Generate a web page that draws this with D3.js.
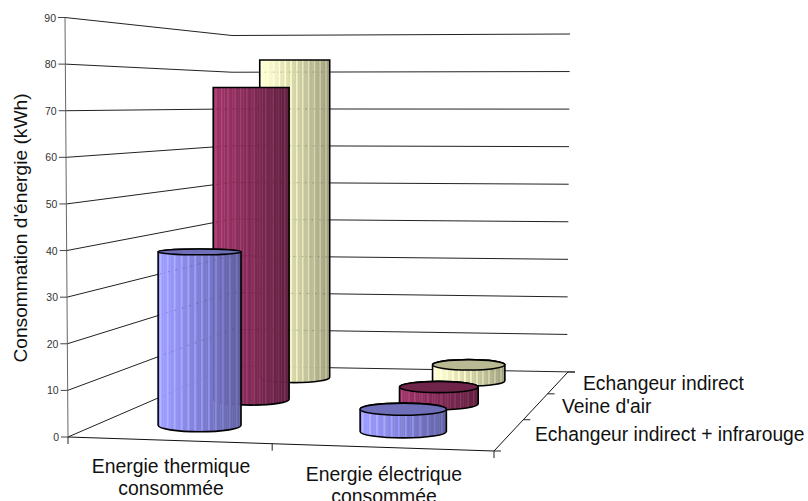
<!DOCTYPE html>
<html>
<head>
<meta charset="utf-8">
<script src="https://cdn.jsdelivr.net/npm/d3@7"></script>
<style>
  html, body { margin: 0; padding: 0; background: #fff; }
  svg { display: block; }
  text { font-family: "Liberation Sans", Arial, sans-serif; fill: #111; }
</style>
</head>
<body>
<div id="chart"></div>
<script>
var categories = [["Energie thermique", "consommée"], ["Energie électrique", "consommée"]];
var series = ["Echangeur indirect + infrarouge", "Veine d'air", "Echangeur indirect"];
var seriesColors = ["#9999ff", "#993366", "#ffffcc"];
var thermalValues = [38.2, 75, 82.8];
var electricValues = [4.7, 3.9, 4];
var valueTicks = [0, 10, 20, 30, 40, 50, 60, 70, 80, 90];
var axisTitle = "Consommation d'énergie (kWh)";

var width = 808, height = 501;
var svg = d3.select("#chart").append("svg")
  .attr("width", width)
  .attr("height", height);
var defs = svg.append("defs");

// floor corners on screen, used for a projective map of the unit square
var FL = [68, 437], FR = [494, 451], BR = [568, 372], BL = [232, 366];

var dx1 = FR[0] - BR[0], dx2 = BL[0] - BR[0], sx = FL[0] - FR[0] + BR[0] - BL[0];
var dy1 = FR[1] - BR[1], dy2 = BL[1] - BR[1], sy = FL[1] - FR[1] + BR[1] - BL[1];
var den = dx1 * dy2 - dx2 * dy1;
var g = (sx * dy2 - dx2 * sy) / den;
var h = (dx1 * sy - sx * dy1) / den;

function project(u, v) {
  var w = 1 + g * u + h * v;
  return {
    x: ((FR[0] - FL[0] + g * FR[0]) * u + (BL[0] - FL[0] + h * BL[0]) * v + FL[0]) / w,
    y: ((FR[1] - FL[1] + g * FR[1]) * u + (BL[1] - FL[1] + h * BL[1]) * v + FL[1]) / w,
    w: w
  };
}

var uScale = d3.scaleBand().domain([0, 1]).range([0, 1]);
var vScale = d3.scaleBand().domain(d3.range(series.length)).range([0, 1]);
var heightScale = d3.scaleLinear().domain([0, 90]).range([0, 420]);

// the three wall edges
var yFront = d3.scaleLinear().domain([0, 90]).range([437, 17.5]);
var yBack = d3.scaleLinear().domain([0, 90]).range([366, 35.5]);
var yRight = d3.scaleLinear().domain([0, 90]).range([372, 34]);
var xFront = d3.scaleLinear().domain([0, 90]).range([68, 65]);
var xRight = d3.scaleLinear().domain([0, 90]).range([567, 570]);

var line = d3.line();

function gridPoints(d) {
  return [[xFront(d), yFront(d)], [232, yBack(d)], [xRight(d), yRight(d)]];
}

// walls and floor
var grid = svg.append("g").attr("fill", "none").attr("stroke", "#222").attr("stroke-width", 1);

grid.selectAll("path.grid")
  .data(valueTicks.slice(1))
  .join("path")
  .attr("class", "grid")
  .attr("d", function(d) { return line(gridPoints(d)); });

grid.append("path").attr("d", line([FL, BL])).attr("stroke", "#222");
grid.append("path").attr("d", line([BL, [BR[0] + 7, BR[1]]])).attr("stroke", "#222");
grid.append("path").attr("d", line([FL, FR])).attr("stroke", "#111");
grid.append("path").attr("d", line([FR, BR])).attr("stroke", "#111");
grid.append("path")
  .attr("d", line([[xFront(90), yFront(90)], FL]))
  .attr("stroke", "#666");

// value axis ticks and labels
var tickGroup = svg.append("g");
tickGroup.selectAll("line")
  .data(valueTicks)
  .join("line")
  .attr("x1", function(d) { return xFront(d) - 7; })
  .attr("x2", function(d) { return xFront(d); })
  .attr("y1", function(d) { return yFront(d); })
  .attr("y2", function(d) { return yFront(d); })
  .attr("stroke", "#444");
tickGroup.selectAll("text")
  .data(valueTicks)
  .join("text")
  .attr("x", function(d) { return xFront(d) - 9; })
  .attr("y", function(d) { return yFront(d) + 4; })
  .attr("text-anchor", "end")
  .attr("font-size", 10.5)
  .style("fill", "#333")
  .text(function(d) { return d; });

// category and depth ticks
var floorTicks = svg.append("g").attr("stroke", "#222");
[0, 0.5, 1].forEach(function(u) {
  var p = project(u, 0);
  floorTicks.append("line").attr("x1", p.x).attr("x2", p.x).attr("y1", p.y).attr("y2", p.y + 7);
});
[0, 1, 2, 3].forEach(function(i) {
  var p = project(1, i / 3);
  floorTicks.append("line").attr("x1", p.x).attr("x2", p.x + 7).attr("y1", p.y).attr("y2", p.y);
});

// cylinders, back row first
var bars = [];
d3.range(series.length).reverse().forEach(function(s) {
  bars.push({ cat: 0, s: s, value: thermalValues[s] });
  bars.push({ cat: 1, s: s, value: electricValues[s] });
});

var horizon = 105;
function ellipseRy(y) { return Math.max(0, (y - horizon) * 0.02); }

var bandSteps = d3.range(0, 1, 1 / 48);

bars.forEach(function(d, i) {
  var p = project(uScale(d.cat) + uScale.bandwidth() / 2, vScale(d.s) + vScale.bandwidth() / 2);
  var rx = 42.6 / p.w;
  var cx = p.x + 2;
  var by = p.y;
  var ty = by - heightScale(d.value) / p.w;
  var ryB = ellipseRy(by), ryT = ellipseRy(ty);
  var base = seriesColors[d.s];
  var shade = d3.interpolateRgb(base, d3.rgb(base).darker(1.35));
  var body = "M" + (cx - rx) + "," + ty +
    "L" + (cx - rx) + "," + by +
    "A" + rx + "," + ryB + " 0 0 0 " + (cx + rx) + "," + by +
    "L" + (cx + rx) + "," + ty +
    "A" + rx + "," + ryT + " 0 0 0 " + (cx - rx) + "," + ty + "Z";

  var clipId = "clip" + i;
  defs.append("clipPath").attr("id", clipId).append("path").attr("d", body);

  var g0 = svg.append("g");
  var inner = g0.append("g").attr("clip-path", "url(#" + clipId + ")");
  var step = 2 * rx / bandSteps.length;

  // vertical facets with a thin lighter seam every few of them
  inner.selectAll("rect")
    .data(bandSteps)
    .join("rect")
    .attr("x", function(t) { return cx - rx + 2 * rx * t; })
    .attr("y", ty - 1)
    .attr("width", step + 0.4)
    .attr("height", by - ty + ryB + 2)
    .attr("fill", function(t, k) {
      var c = d3.rgb(shade(Math.max(0, (t - 0.08) / 0.92)));
      return (k % 4 === 1) ? c.brighter(0.45) : c;
    });

  // gridlines showing through as dots
  inner.selectAll("path.dots")
    .data(valueTicks.slice(1))
    .join("path")
    .attr("class", "dots")
    .attr("d", function(v) { return line(gridPoints(v)); })
    .attr("fill", "none")
    .attr("stroke", "#222")
    .attr("stroke-opacity", 0.35)
    .attr("stroke-dasharray", "1 7");

  g0.append("path").attr("d", body)
    .attr("fill", "none").attr("stroke", "#000").attr("stroke-width", 1.6);
  g0.append("ellipse")
    .attr("cx", cx).attr("cy", ty).attr("rx", rx).attr("ry", ryT)
    .attr("fill", d3.rgb(base).darker(0.9))
    .attr("stroke", "#000").attr("stroke-width", 1.6);
});

// labels
svg.append("text")
  .attr("transform", "translate(27,228) rotate(-90)")
  .attr("text-anchor", "middle")
  .attr("font-size", 19.2)
  .text(axisTitle);

var catX = [171, 384], catY = [473, 481];
categories.forEach(function(lines, c) {
  lines.forEach(function(t, k) {
    svg.append("text")
      .attr("x", catX[c])
      .attr("y", catY[c] + k * 22)
      .attr("text-anchor", "middle")
      .attr("font-size", 19.4)
      .text(t);
  });
});

var seriesX = [535, 562, 583], seriesY = [441, 412.5, 390];
series.forEach(function(t, s) {
  svg.append("text")
    .attr("x", seriesX[s])
    .attr("y", seriesY[s])
    .attr("font-size", 19.3)
    .text(t);
});
</script>
</body>
</html>
